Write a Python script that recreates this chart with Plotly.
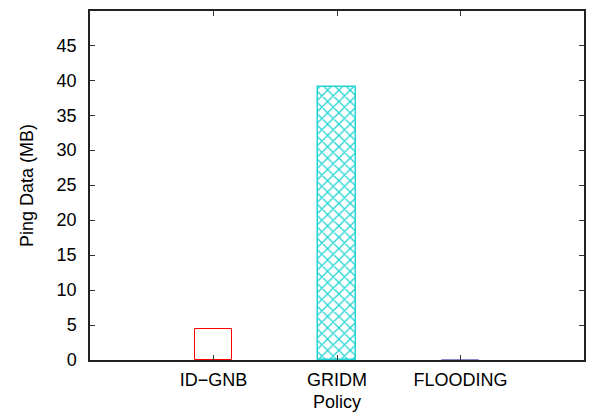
import plotly.graph_objects as go

categories = ["ID\u2212GNB", "GRIDM", "FLOODING"]
positions = [1, 2, 3]
values = [4.4, 39.1, 0.05]
y_ticks = [0, 5, 10, 15, 20, 25, 30, 35, 40, 45]

FONT = "Liberation Sans, Arial, Helvetica, sans-serif"

fig = go.Figure()
fig.add_trace(go.Bar(
    x=[positions[0]], y=[values[0]], width=0.3,
    marker=dict(color="rgba(0,0,0,0)", line=dict(color="#ff0000", width=1)),
    showlegend=False))
fig.add_trace(go.Bar(
    x=[positions[1]], y=[values[1]], width=0.3,
    marker=dict(color="white", line=dict(color="#22d4d4", width=1.5),
                pattern=dict(shape="x", fgcolor="#22d4d4", bgcolor="white",
                             fgopacity=1, size=8, solidity=0.3)),
    showlegend=False))
fig.add_trace(go.Bar(
    x=[positions[2]], y=[values[2]], width=0.3,
    marker=dict(color="rgba(0,0,0,0)", line=dict(color="#8888cc", width=1)),
    showlegend=False))

fig.update_layout(
    width=589, height=417,
    margin=dict(l=90, r=5, t=11, b=57, autoexpand=False),
    paper_bgcolor="white", plot_bgcolor="white",
    font=dict(family=FONT, size=18, color="black"),
    bargap=0,
)
fig.update_xaxes(
    range=[0, 4], tickvals=positions, ticktext=categories,
    ticks="inside", ticklen=5, tickcolor="#333", tickwidth=1,
    showline=True, linecolor="#222", linewidth=1.5, mirror="ticks",
    showgrid=False, zeroline=False, automargin=False,
    title=dict(text="Policy", font=dict(size=18), standoff=6),
    ticklabelstandoff=3,
)
fig.update_yaxes(
    range=[0, 49.9], tickvals=y_ticks,
    ticks="inside", ticklen=5, tickcolor="#333", tickwidth=1,
    showline=True, linecolor="#222", linewidth=1.5, mirror="ticks",
    showgrid=False, zeroline=False, automargin=False,
    title=dict(text="Ping Data (MB)", font=dict(size=18), standoff=18),
    ticklabelstandoff=8,
)

fig.write_html("out.html", config={"displayModeBar": False},
               post_script="document.body.style.margin='0';document.body.style.overflow='hidden';")
